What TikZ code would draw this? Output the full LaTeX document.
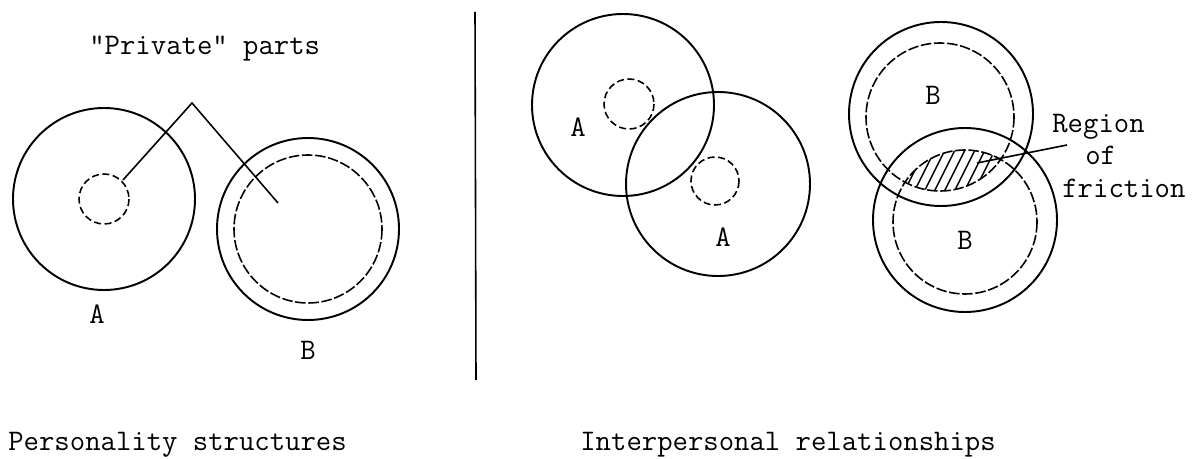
\documentclass[tikz,border=0pt]{standalone}
\usepackage{amsmath,amssymb}
\usepackage{tikz}

\tikzset{
  outer/.style={line width=1.1pt},
  inner/.style={line width=0.9pt,dash pattern=on 6pt off 1.5pt},
  small/.style={line width=0.9pt,dash pattern=on 4pt off 2pt},
  label/.style={font=\ttfamily\fontsize{17}{20}\selectfont,inner sep=0pt},
  hatch/.style={line width=0.8pt}
}

\begin{document}
\begin{tikzpicture}[x=0.02cm,y=-0.02cm]
\useasboundingbox (0,0) rectangle (1203,459);

% personality structures
\coordinate (cA) at (104,199);
\coordinate (cB) at (308,229);
\draw[outer] (cA) circle (91);
\draw[small] (cA) circle (25);
\draw[outer] (cB) circle (91);
\draw[inner] (cB) circle (74);
\node[label,anchor=base west] (priv) at (89,55) {"Private" parts};
\coordinate (apex) at (192,103);
\coordinate (privA) at (123,180);
\coordinate (privB) at (278,203);
\draw[line width=0.9pt] (privA) -- (apex) -- (privB);
\node[label] (labA) at (97,314) {A};
\node[label] (labB) at (308,350) {B};

% divider
\coordinate (top) at (475,12);
\coordinate (bot) at (476,380);
\draw[line width=0.9pt] (top) -- (bot);

% interpersonal, A and A
\coordinate (cA1) at (623,105);
\coordinate (cA2) at (718,184);
\draw[outer] (cA1) circle (91);
\draw[small] (629,104) circle (25);
\draw[outer] (cA2) circle (92);
\draw[small] (715,181) circle (24);
\node[label] (labA1) at (578,127) {A};
\node[label] (labA2) at (723,237) {A};

% interpersonal, B and B
\coordinate (cB1) at (941,114);
\coordinate (cB2) at (965,220);
\draw[outer] (cB1) circle (92);
\draw[inner] (940,117) circle (74);
\draw[outer] (cB2) circle (92);
\draw[inner] (965,222) circle (72);
\begin{scope}
  \clip (940,117) circle (74);
  \clip (965,222) circle (72);
  \foreach \x in {880,890,...,1010}
    \draw[hatch] (\x,200) -- ++(25,-50);
\end{scope}
\node[label] (labB1) at (933,95) {B};
\node[label] (labB2) at (965,240) {B};
\node[label,anchor=base west] (reg1) at (1052,133) {Region};
\node[label,anchor=base west] (reg2) at (1085,165) {of};
\node[label,anchor=base west] (reg3) at (1062,198) {friction};
\coordinate (fric) at (977,163);
\coordinate (ptr) at (1067,145);
\draw[line width=0.9pt] (ptr) -- (fric);

% captions
\node[label,anchor=base west] (cap1) at (8,450) {Personality structures};
\node[label,anchor=base west] (cap2) at (580,450) {Interpersonal relationships};
\end{tikzpicture}
\end{document}
